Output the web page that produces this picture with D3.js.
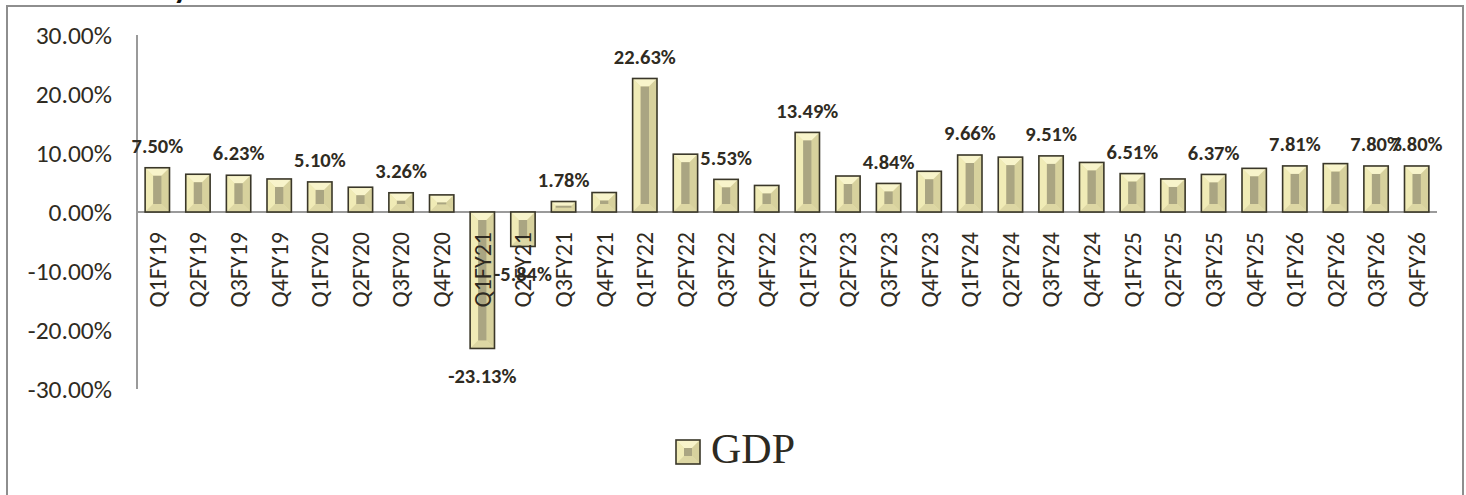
<!DOCTYPE html>
<html>
<head>
<meta charset="utf-8">
<script src="https://cdn.jsdelivr.net/npm/d3@7"></script>
<style>
  html, body { margin: 0; padding: 0; background: #fff; }
  svg { display: block; }
</style>
</head>
<body>
<div id="chart"></div>
<script>
// quarters on the x axis
const categories = [
  'Q1FY19', 'Q2FY19', 'Q3FY19', 'Q4FY19',
  'Q1FY20', 'Q2FY20', 'Q3FY20', 'Q4FY20',
  'Q1FY21', 'Q2FY21', 'Q3FY21', 'Q4FY21',
  'Q1FY22', 'Q2FY22', 'Q3FY22', 'Q4FY22',
  'Q1FY23', 'Q2FY23', 'Q3FY23', 'Q4FY23',
  'Q1FY24', 'Q2FY24', 'Q3FY24', 'Q4FY24',
  'Q1FY25', 'Q2FY25', 'Q3FY25', 'Q4FY25',
  'Q1FY26', 'Q2FY26', 'Q3FY26', 'Q4FY26'
];

// GDP growth, % (labelled ones are exact, the rest)
const gdp = [
  7.50, 6.4, 6.23, 5.6,
  5.10, 4.2, 3.26, 2.9,
  -23.13, -5.84, 1.78, 3.3,
  22.63, 9.8, 5.53, 4.5,
  13.49, 6.1, 4.84, 6.9,
  9.66, 9.3, 9.51, 8.4,
  6.51, 5.6, 6.37, 7.4,
  7.81, 8.2, 7.80, 7.80
];

// quarters that carry a data label in the original
const labelled = [
  'Q1FY19', 'Q3FY19', 'Q1FY20', 'Q3FY20', 'Q1FY21', 'Q2FY21', 'Q3FY21',
  'Q1FY22', 'Q3FY22', 'Q1FY23', 'Q3FY23', 'Q1FY24', 'Q3FY24', 'Q1FY25',
  'Q3FY25', 'Q1FY26', 'Q3FY26', 'Q4FY26'
];

const yTicks = [30, 20, 10, 0, -10, -20, -30];
const seriesName = 'GDP';

const W = 1466, H = 495;
const textColor = '#2f2b22';
const sansFont = 'Carlito, Calibri, Lato, sans-serif';

const data = categories.map((c, i) => ({ cat: c, value: gdp[i] }));

const svg = d3.select('#chart').append('svg')
  .attr('width', W)
  .attr('height', H);

svg.append('rect')
  .attr('width', W).attr('height', H)
  .attr('fill', '#fff');

// clipped chart title, only the descender shows
svg.append('text')
  .attr('x', 181).attr('y', -2)
  .attr('text-anchor', 'middle')
  .attr('font-family', sansFont)
  .attr('font-size', 32)
  .attr('font-weight', 'bold')
  .attr('fill', '#111')
  .text('y');

// chart frame
svg.append('rect')
  .attr('x', 7).attr('y', 6)
  .attr('width', 1456).attr('height', 520)
  .attr('fill', 'none')
  .attr('stroke', '#8e8e8e')
  .attr('stroke-width', 2);

const x = d3.scaleBand()
  .domain(categories)
  .range([137, 1437])
  .paddingInner(0.4)
  .paddingOuter(0.2);

const y = d3.scaleLinear()
  .domain([-30, 30])
  .range([389, 35]);

// axes lines
svg.append('line')
  .attr('x1', x.range()[0]).attr('x2', x.range()[0])
  .attr('y1', y(30)).attr('y2', y(-30))
  .attr('stroke', '#9a9a9a').attr('stroke-width', 2);

svg.append('line')
  .attr('x1', x.range()[0]).attr('x2', x.range()[1])
  .attr('y1', y(0)).attr('y2', y(0))
  .attr('stroke', '#9a9a9a').attr('stroke-width', 2);

// y tick labels
svg.append('g')
  .selectAll('text')
  .data(yTicks)
  .enter().append('text')
    .attr('x', 112)
    .attr('y', d => y(d))
    .attr('dy', '0.35em')
    .attr('text-anchor', 'end')
    .attr('font-family', sansFont)
    .attr('font-size', 25.5)
    .attr('fill', textColor)
    .text(d => d.toFixed(2) + '%');

// bevelled bar: outline, four trapezoid edges and a darker core
const bevel = {
  face: '#e6e0ab',
  top: '#f8f4cb',
  left: '#f0ebb6',
  right: '#d7d19d',
  bottom: '#ddd7a4',
  core: '#aaa582',
  outline: '#3a3729'
};

function drawBevel(g, x0, y0, w, h, inset) {
  const x1 = x0 + w, y1 = y0 + h;
  const k = Math.max(0, Math.min(inset, w / 2 - 1, h / 2 - 1));
  const ix0 = x0 + k, ix1 = x1 - k, iy0 = y0 + k, iy1 = y1 - k;
  const pts = p => p.map(q => q.join(',')).join(' ');

  g.append('rect')
    .attr('x', x0).attr('y', y0).attr('width', w).attr('height', h)
    .attr('fill', bevel.face);
  g.append('polygon')
    .attr('points', pts([[x0, y0], [x1, y0], [ix1, iy0], [ix0, iy0]]))
    .attr('fill', bevel.top);
  g.append('polygon')
    .attr('points', pts([[x0, y0], [ix0, iy0], [ix0, iy1], [x0, y1]]))
    .attr('fill', bevel.left);
  g.append('polygon')
    .attr('points', pts([[x1, y0], [x1, y1], [ix1, iy1], [ix1, iy0]]))
    .attr('fill', bevel.right);
  g.append('polygon')
    .attr('points', pts([[x0, y1], [ix0, iy1], [ix1, iy1], [x1, y1]]))
    .attr('fill', bevel.bottom);
  g.append('rect')
    .attr('x', ix0).attr('y', iy0)
    .attr('width', Math.max(0, ix1 - ix0)).attr('height', Math.max(0, iy1 - iy0))
    .attr('fill', bevel.core);
  g.append('rect')
    .attr('x', x0).attr('y', y0).attr('width', w).attr('height', h)
    .attr('fill', 'none')
    .attr('stroke', bevel.outline)
    .attr('stroke-width', 1.6);
}

// bars
const bars = svg.append('g').attr('class', 'bars');
data.forEach(d => {
  const top = y(Math.max(d.value, 0));
  const bottom = y(Math.min(d.value, 0));
  drawBevel(bars.append('g'), x(d.cat), top, x.bandwidth(), bottom - top, 8);
});

// category labels, rotated
svg.append('g')
  .selectAll('text')
  .data(categories)
  .enter().append('text')
    .attr('transform', d => `translate(${x(d) + x.bandwidth() / 2}, ${y(0) + 20}) rotate(-90)`)
    .attr('dy', '0.35em')
    .attr('text-anchor', 'end')
    .attr('font-family', sansFont)
    .attr('font-size', 24)
    .attr('fill', textColor)
    .text(d => d);

// data labels
svg.append('g')
  .selectAll('text')
  .data(data.filter(d => labelled.includes(d.cat)))
  .enter().append('text')
    .attr('x', d => x(d.cat) + x.bandwidth() / 2)
    .attr('y', d => d.value >= 0 ? y(d.value) - 22 : y(d.value) + 27)
    .attr('dy', '0.35em')
    .attr('text-anchor', 'middle')
    .attr('font-family', sansFont)
    .attr('font-size', 20.5)
    .attr('font-weight', 'bold')
    .attr('fill', textColor)
    .text(d => d.value.toFixed(2) + '%');

// legend
const legend = svg.append('g').attr('class', 'legend');
drawBevel(legend, 676, 440, 24, 24, 8);
legend.append('text')
  .attr('x', 711)
  .attr('y', 463)
  .attr('font-family', '"Liberation Serif", "Times New Roman", serif')
  .attr('font-size', 42)
  .attr('fill', '#2d2a22')
  .text(seriesName);
</script>
</body>
</html>
